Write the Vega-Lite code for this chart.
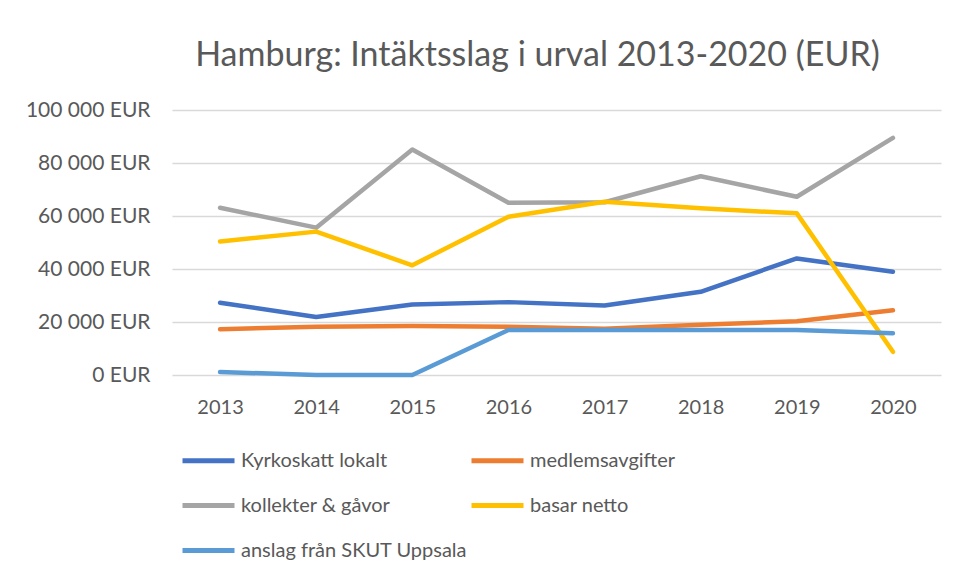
{
  "$schema": "https://vega.github.io/schema/vega-lite/v6.json",
  "autosize": {"type": "none"},
  "width": 769,
  "height": 265,
  "padding": {"left": 172, "top": 110, "right": 15, "bottom": 201},
  "background": "white",
  "title": {
    "text": "Hamburg: Intäktsslag i urval 2013-2020 (EUR)",
    "font": "Lato",
    "fontSize": 34,
    "fontWeight": "normal",
    "color": "#595959",
    "anchor": "middle",
    "dx": -19,
    "offset": 26
  },
  "data": {
    "values": [
      {"year": "2013", "series": "Kyrkoskatt lokalt", "value": 27250},
      {"year": "2014", "series": "Kyrkoskatt lokalt", "value": 21900},
      {"year": "2015", "series": "Kyrkoskatt lokalt", "value": 26600},
      {"year": "2016", "series": "Kyrkoskatt lokalt", "value": 27500},
      {"year": "2017", "series": "Kyrkoskatt lokalt", "value": 26250},
      {"year": "2018", "series": "Kyrkoskatt lokalt", "value": 31400},
      {"year": "2019", "series": "Kyrkoskatt lokalt", "value": 44000},
      {"year": "2020", "series": "Kyrkoskatt lokalt", "value": 39000},
      {"year": "2013", "series": "medlemsavgifter", "value": 17250},
      {"year": "2014", "series": "medlemsavgifter", "value": 18250},
      {"year": "2015", "series": "medlemsavgifter", "value": 18500},
      {"year": "2016", "series": "medlemsavgifter", "value": 18200},
      {"year": "2017", "series": "medlemsavgifter", "value": 17500},
      {"year": "2018", "series": "medlemsavgifter", "value": 19000},
      {"year": "2019", "series": "medlemsavgifter", "value": 20250},
      {"year": "2020", "series": "medlemsavgifter", "value": 24400},
      {"year": "2013", "series": "kollekter & gåvor", "value": 63100},
      {"year": "2014", "series": "kollekter & gåvor", "value": 55600},
      {"year": "2015", "series": "kollekter & gåvor", "value": 85100},
      {"year": "2016", "series": "kollekter & gåvor", "value": 65000},
      {"year": "2017", "series": "kollekter & gåvor", "value": 65200},
      {"year": "2018", "series": "kollekter & gåvor", "value": 75000},
      {"year": "2019", "series": "kollekter & gåvor", "value": 67250},
      {"year": "2020", "series": "kollekter & gåvor", "value": 89500},
      {"year": "2013", "series": "basar netto", "value": 50400},
      {"year": "2014", "series": "basar netto", "value": 54100},
      {"year": "2015", "series": "basar netto", "value": 41400},
      {"year": "2016", "series": "basar netto", "value": 59750},
      {"year": "2017", "series": "basar netto", "value": 65400},
      {"year": "2018", "series": "basar netto", "value": 62900},
      {"year": "2019", "series": "basar netto", "value": 61000},
      {"year": "2020", "series": "basar netto", "value": 8750},
      {"year": "2013", "series": "anslag från SKUT Uppsala", "value": 1100},
      {"year": "2014", "series": "anslag från SKUT Uppsala", "value": 0},
      {"year": "2015", "series": "anslag från SKUT Uppsala", "value": 0},
      {"year": "2016", "series": "anslag från SKUT Uppsala", "value": 17000},
      {"year": "2017", "series": "anslag från SKUT Uppsala", "value": 17000},
      {"year": "2018", "series": "anslag från SKUT Uppsala", "value": 17000},
      {"year": "2019", "series": "anslag från SKUT Uppsala", "value": 17000},
      {"year": "2020", "series": "anslag från SKUT Uppsala", "value": 15750}
    ]
  },
  "mark": {"type": "line", "strokeWidth": 4.5, "strokeCap": "round", "strokeJoin": "round"},
  "encoding": {
    "x": {
      "field": "year",
      "type": "ordinal",
      "scale": {"type": "point", "padding": 0.5},
      "axis": {
        "title": null,
        "labelAngle": 0,
        "domain": false,
        "ticks": false,
        "labelPadding": 22,
        "labelFont": "Lato",
        "labelFontSize": 20,
        "labelColor": "#595959"
      }
    },
    "y": {
      "field": "value",
      "type": "quantitative",
      "scale": {"domain": [0, 100000], "nice": false},
      "axis": {
        "title": null,
        "values": [0, 20000, 40000, 60000, 80000, 100000],
        "labelExpr": "replace(format(datum.value, ','), ',', ' ') + ' EUR'",
        "domain": false,
        "ticks": false,
        "labelPadding": 22,
        "labelFont": "Lato",
        "labelFontSize": 21,
        "labelColor": "#595959",
        "gridColor": "#D9D9D9",
        "gridWidth": 1.5
      }
    },
    "color": {
      "field": "series",
      "type": "nominal",
      "scale": {
        "domain": ["Kyrkoskatt lokalt", "medlemsavgifter", "kollekter & gåvor", "basar netto", "anslag från SKUT Uppsala"],
        "range": ["#4472C4", "#ED7D31", "#A5A5A5", "#FFC000", "#5B9BD5"]
      },
      "legend": {
        "title": null,
        "orient": "none",
        "direction": "horizontal",
        "legendX": 8,
        "legendY": 322,
        "columns": 2,
        "symbolType": "stroke",
        "symbolSize": 2704,
        "symbolStrokeWidth": 5,
        "labelFont": "Lato",
        "labelFontSize": 20,
        "labelColor": "#595959",
        "labelOffset": 4,
        "labelLimit": 400,
        "columnPadding": -7,
        "rowPadding": 6
      }
    }
  },
  "config": {"view": {"stroke": null}}
}
